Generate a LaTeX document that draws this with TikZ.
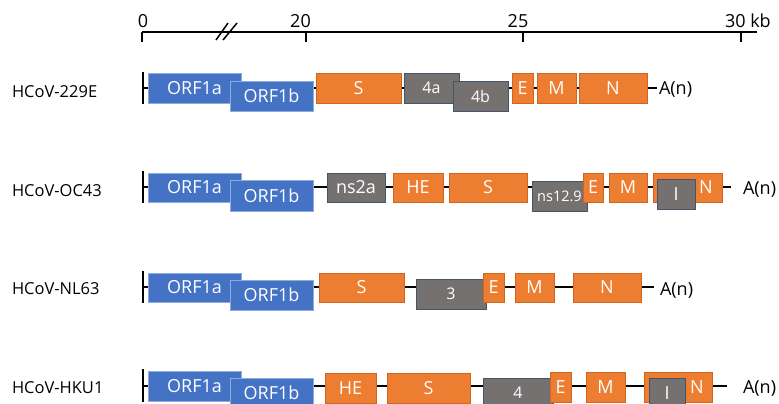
\documentclass[tikz,border=0pt]{standalone}
\usepackage{fontspec}
\setmainfont{Open Sans}
\definecolor{gblue}{HTML}{4472C4}
\definecolor{gblueb}{HTML}{8FAADC}
\definecolor{gorange}{HTML}{ED7D31}
\definecolor{goranb}{HTML}{D0651E}
\definecolor{ggray}{HTML}{767171}
\definecolor{ggrayb}{HTML}{44546A}
\newcommand\gbox[7]{%
  \node[#1, anchor=north west, minimum width={(#5-#3)*1bp}, minimum height={(#6-#4)*1bp}] (#2) at (#3,-#4) {#7};}
\begin{document}
\begin{tikzpicture}[x=1bp,y=1bp,
  every node/.style={inner sep=0pt, outer sep=0pt, font=\fontsize{18bp}{20bp}\selectfont},
  bluebox/.style={fill=gblue, draw=gblueb, line width=0.8bp, text=white},
  orangebox/.style={fill=gorange, draw=goranb, line width=0.8bp, text=white},
  graybox/.style={fill=ggray, draw=ggrayb, line width=1bp, text=white},
  small/.style={font=\fontsize{14.5bp}{16bp}\selectfont},
  mid/.style={font=\fontsize{16bp}{18bp}\selectfont},
  backbone/.style={line width=1.5bp},
  startbar/.style={line width=2bp},
  axisline/.style={line width=2bp},
  rowlabel/.style={anchor=base west, text=black, font=\fontsize{16.5bp}{18bp}\selectfont},
  tail/.style={anchor=base west, text=black}]
\useasboundingbox (0,0) rectangle (779,-403);
% axis
\coordinate (a0) at (142,-32);
\coordinate (a1) at (757,-32);
\draw[axisline] (a0) -- (a1);
\foreach \x/\n in {142/t0,306/t20,523/t25,741/t30}{
  \coordinate (\n) at (\x,-32);
  \draw[axisline] (\n) -- ++(0,-10);
}
\node[anchor=base] (l0) at (143,-27) {0};
\node[anchor=base] (l20) at (300.5,-27) {20};
\node[anchor=base] (l25) at (518,-27) {25};
\node[anchor=base west] (l30) at (725,-27) {30 kb};
\coordinate (k1a) at (216,-40); \coordinate (k1b) at (228,-23);
\coordinate (k2a) at (223,-40); \coordinate (k2b) at (237,-23);
\draw[line width=1.5bp] (k1a) -- (k1b);
\draw[line width=1.5bp] (k2a) -- (k2b);

% ---------- Row 1: HCoV-229E
\node[rowlabel] (r1) at (12,-97) {HCoV-229E};
\coordinate (s1) at (143,-88); \coordinate (e1) at (657,-88);
\draw[backbone] (s1) -- (e1);
\coordinate (b1t) at (143,-72); \coordinate (b1b) at (143,-104);
\draw[startbar] (b1t) -- (b1b);
\gbox{bluebox}{r1a}{148}{73}{241}{103}{ORF1a}
\gbox{bluebox}{r1b}{230}{81}{313}{111}{ORF1b}
\gbox{orangebox}{r1s}{316}{73}{401}{103}{S}
\gbox{graybox,mid}{r1fa}{404}{73}{459}{103}{4a}
\gbox{graybox,mid}{r1fb}{453}{81}{508}{111}{4b}
\gbox{orangebox}{r1e}{512}{73}{533}{103}{E}
\gbox{orangebox}{r1m}{537}{73}{576}{103}{M}
\gbox{orangebox}{r1n}{579}{73}{647}{103}{N}
\node[tail] (an1) at (659,-94) {A(n)};

% ---------- Row 2: HCoV-OC43
\node[rowlabel] (r2) at (12,-196) {HCoV-OC43};
\coordinate (s2) at (143,-187); \coordinate (e2) at (731,-187);
\draw[backbone] (s2) -- (e2);
\coordinate (b2t) at (143,-171); \coordinate (b2b) at (143,-203);
\draw[startbar] (b2t) -- (b2b);
\gbox{bluebox}{r2a}{148}{173}{241}{202}{ORF1a}
\gbox{bluebox}{r2b}{230}{180}{313}{211}{ORF1b}
\gbox{graybox}{r2ns}{327}{173}{385}{202}{ns2a}
\gbox{orangebox}{r2he}{393}{173}{443}{202}{HE}
\gbox{orangebox}{r2s}{449}{173}{527}{202}{S}
\gbox{graybox,small}{r2nt}{532}{181}{587}{211}{ns12.9}
\gbox{orangebox}{r2e}{583}{173}{603}{202}{E}
\gbox{orangebox}{r2m}{609}{173}{647}{202}{M}
\gbox{orangebox}{r2n}{653}{173}{722}{202}{}
\gbox{graybox}{r2i}{657}{179}{695}{209}{I}
\node[text=white] (r2nl) at (706,-187.5) {N};
\node[tail] (an2) at (743,-194) {A(n)};

% ---------- Row 3: HCoV-NL63
\node[rowlabel] (r3) at (12,-294) {HCoV-NL63};
\coordinate (s3) at (143,-287); \coordinate (e3) at (654,-287);
\draw[backbone] (s3) -- (e3);
\coordinate (b3t) at (143,-271); \coordinate (b3b) at (143,-303);
\draw[startbar] (b3t) -- (b3b);
\gbox{bluebox}{r3a}{148}{273}{241}{302}{ORF1a}
\gbox{bluebox}{r3b}{230}{280}{313}{310}{ORF1b}
\gbox{orangebox}{r3s}{319}{273}{404}{302}{S}
\gbox{graybox,mid}{r3th}{416}{279}{486}{309}{3}
\gbox{orangebox}{r3e}{483}{273}{504}{302}{E}
\gbox{orangebox}{r3m}{515}{273}{554}{302}{M}
\gbox{orangebox}{r3n}{573}{273}{641}{302}{N}
\node[tail] (an3) at (660,-295) {A(n)};

% ---------- Row 4: HCoV-HKU1
\node[rowlabel] (r4) at (12,-393) {HCoV-HKU1};
\coordinate (s4) at (143,-386); \coordinate (e4) at (727,-386);
\draw[backbone] (s4) -- (e4);
\coordinate (b4t) at (143,-369); \coordinate (b4b) at (143,-402);
\draw[startbar] (b4t) -- (b4b);
\gbox{bluebox}{r4a}{148}{371}{241}{401}{ORF1a}
\gbox{bluebox}{r4b}{230}{378}{313}{408}{ORF1b}
\gbox{orangebox}{r4he}{325}{373}{376}{403}{HE}
\gbox{orangebox}{r4s}{387}{373}{470}{403}{S}
\gbox{graybox,mid}{r4f}{483}{378}{553}{408}{4}
\gbox{orangebox}{r4e}{550}{372}{571}{402}{E}
\gbox{orangebox}{r4m}{586}{372}{625}{402}{M}
\gbox{orangebox}{r4n}{644}{372}{712}{402}{}
\gbox{graybox}{r4i}{649}{378}{685}{408}{I}
\node[text=white] (r4nl) at (697,-387) {N};
\node[tail] (an4) at (743,-393) {A(n)};
\end{tikzpicture}
\end{document}
